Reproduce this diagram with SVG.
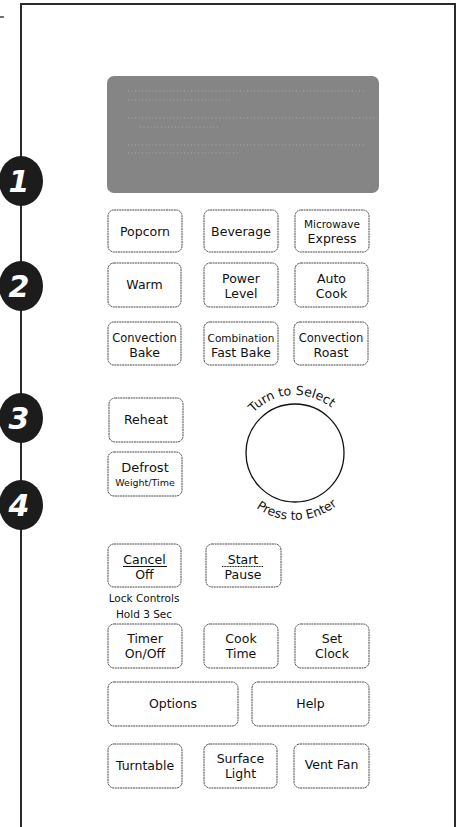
<svg xmlns="http://www.w3.org/2000/svg" width="460" height="827" viewBox="0 0 460 827">
<style>
.btn{fill:#fff;stroke:#4a4a4a;stroke-width:1;stroke-dasharray:2 0.6}
.t{font-family:"DejaVu Sans",sans-serif;font-size:12.5px;fill:#111;text-anchor:middle}
.s{font-size:10.5px}
.xs{font-size:9.5px}
.cv{font-size:11.5px}
.b{fill:#1c1c1c}
.n{font-family:"DejaVu Sans",sans-serif;font-size:30px;font-style:italic;font-weight:bold;fill:#fff;text-anchor:middle}
.ghost{stroke:#a9a9a9;stroke-width:1;stroke-dasharray:1 2.5;fill:none}
</style>
<rect width="460" height="827" fill="#fff"/>
<g id="panel">
<path d="M21 827 V4 H455 V827" fill="none" stroke="#2a2a2a" stroke-width="2"/>
<line x1="0" y1="17" x2="4" y2="17" stroke="#444" stroke-width="1.5"/>
</g>
<g id="display">
<rect x="107" y="76" width="272" height="117" rx="7" fill="#858585"/>
<line class="ghost" x1="128" y1="91" x2="365" y2="91"/>
<line class="ghost" x1="128" y1="100" x2="230" y2="100"/>
<line class="ghost" x1="128" y1="118" x2="377" y2="118"/>
<line class="ghost" x1="140" y1="127" x2="220" y2="127"/>
<line class="ghost" x1="128" y1="145" x2="365" y2="145"/>
<line class="ghost" x1="128" y1="153" x2="240" y2="153"/>
</g>
<g id="badge1"><ellipse class="b" cx="21" cy="181" rx="22" ry="25"/><text class="n" x="19" y="192">1</text></g>
<g id="badge2"><ellipse class="b" cx="21" cy="286" rx="22" ry="25"/><text class="n" x="19" y="297">2</text></g>
<g id="badge3"><ellipse class="b" cx="21" cy="418" rx="22" ry="25"/><text class="n" x="19" y="429">3</text></g>
<g id="badge4"><ellipse class="b" cx="21" cy="505" rx="22" ry="25"/><text class="n" x="19" y="516">4</text></g>

<g id="popcorn"><rect class="btn" x="108" y="210" width="74" height="42" rx="6"/><text class="t" x="145" y="236">Popcorn</text></g>
<g id="beverage"><rect class="btn" x="204" y="210" width="74" height="42" rx="6"/><text class="t" x="241" y="236">Beverage</text></g>
<g id="microwave-express"><rect class="btn" x="295" y="210" width="74" height="42" rx="6"/><text class="t s" x="332" y="228">Microwave</text><text class="t" x="332" y="243">Express</text></g>

<g id="warm"><rect class="btn" x="108" y="263" width="73" height="44" rx="6"/><text class="t" x="144.5" y="289">Warm</text></g>
<g id="power-level"><rect class="btn" x="204" y="263" width="74" height="44" rx="6"/><text class="t" x="241" y="283">Power</text><text class="t" x="241" y="298">Level</text></g>
<g id="auto-cook"><rect class="btn" x="295" y="263" width="73" height="44" rx="6"/><text class="t" x="331.5" y="283">Auto</text><text class="t" x="331.5" y="298">Cook</text></g>

<g id="convection-bake"><rect class="btn" x="108" y="322" width="73" height="43" rx="6"/><text class="t cv" x="144.5" y="342">Convection</text><text class="t" x="144.5" y="357">Bake</text></g>
<g id="combination-fast-bake"><rect class="btn" x="204" y="322" width="74" height="43" rx="6"/><text class="t s" x="241" y="342">Combination</text><text class="t" x="241" y="357">Fast Bake</text></g>
<g id="convection-roast"><rect class="btn" x="294" y="322" width="74" height="43" rx="6"/><text class="t cv" x="331" y="342">Convection</text><text class="t" x="331" y="357">Roast</text></g>

<g id="reheat"><rect class="btn" x="109" y="398" width="74" height="44" rx="6"/><text class="t" x="146" y="424">Reheat</text></g>
<g id="defrost"><rect class="btn" x="108" y="452" width="74" height="44" rx="6"/><text class="t" x="145" y="472" style="font-size:13px">Defrost</text><text class="t xs" x="145" y="486">Weight/Time</text></g>

<g id="dial">
<defs>
<path id="arcTop" d="M237 453 A58 58 0 0 1 353 453"/>
<path id="arcBot" d="M228 453 A67 67 0 0 0 362 453"/>
</defs>
<circle cx="295" cy="453" r="49" fill="#fff" stroke="#111" stroke-width="1.3"/>
<text class="t" style="font-size:12.5px"><textPath href="#arcTop" startOffset="48%">Turn to Select</textPath></text>
<text class="t" style="font-size:12.5px"><textPath href="#arcBot" startOffset="51%">Press to Enter</textPath></text>
</g>

<g id="cancel-off"><rect class="btn" x="108" y="544" width="73" height="43" rx="6"/><text class="t" x="144.5" y="564">Cancel</text><line x1="123" y1="566.5" x2="167" y2="566.5" stroke="#111" stroke-width="1"/><text class="t" x="144.5" y="579">Off</text></g>
<g id="start-pause"><rect class="btn" x="206" y="544" width="75" height="43" rx="6"/><text class="t" x="243" y="564">Start</text><line x1="222" y1="566.5" x2="263" y2="566.5" stroke="#111" stroke-width="1" stroke-dasharray="1 0.6"/><text class="t" x="243" y="579">Pause</text></g>
<g id="lock-controls"><text class="t s" x="144" y="602">Lock Controls</text><text class="t s" x="144" y="618">Hold 3 Sec</text></g>

<g id="timer"><rect class="btn" x="108" y="624" width="74" height="44" rx="6"/><text class="t" x="145" y="643">Timer</text><text class="t" x="145" y="658">On/Off</text></g>
<g id="cook-time"><rect class="btn" x="204" y="624" width="74" height="44" rx="6"/><text class="t" x="241" y="643">Cook</text><text class="t" x="241" y="658">Time</text></g>
<g id="set-clock"><rect class="btn" x="295" y="624" width="74" height="44" rx="6"/><text class="t" x="332" y="643">Set</text><text class="t" x="332" y="658">Clock</text></g>

<g id="options"><rect class="btn" x="108" y="682" width="130" height="44" rx="6"/><text class="t" x="173" y="708">Options</text></g>
<g id="help"><rect class="btn" x="252" y="682" width="117" height="44" rx="6"/><text class="t" x="310.5" y="708">Help</text></g>

<g id="turntable"><rect class="btn" x="108" y="744" width="74" height="44" rx="6"/><text class="t" x="145" y="770">Turntable</text></g>
<g id="surface-light"><rect class="btn" x="204" y="744" width="73" height="44" rx="6"/><text class="t" x="240.5" y="763">Surface</text><text class="t" x="240.5" y="778">Light</text></g>
<g id="vent-fan"><rect class="btn" x="294" y="744" width="75" height="44" rx="6"/><text class="t" x="331.5" y="769">Vent Fan</text></g>
</svg>
